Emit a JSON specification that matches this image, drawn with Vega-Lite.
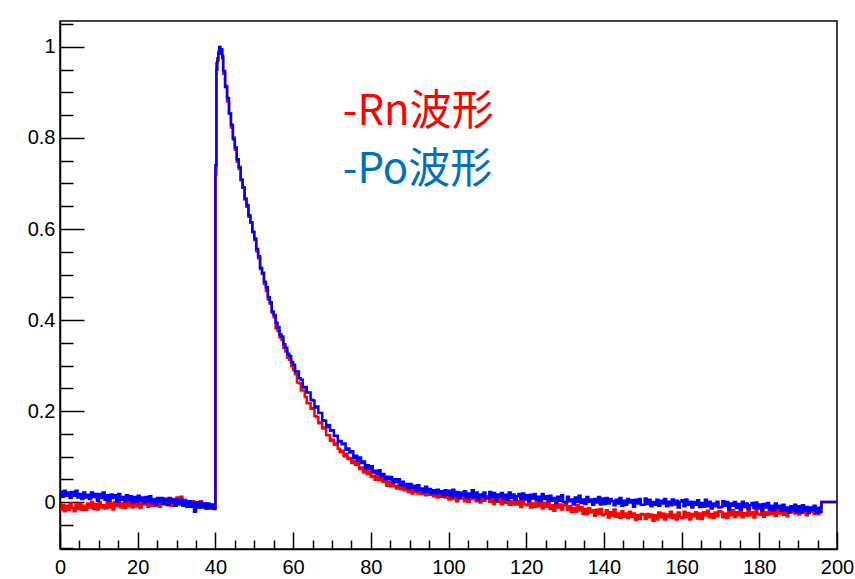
{
  "$schema": "https://vega.github.io/schema/vega-lite/v6.json",
  "width": 777,
  "height": 528,
  "autosize": {"type": "none"},
  "padding": {"left": 60, "top": 21, "right": 18, "bottom": 30},
  "background": "white",
  "config": {
    "view": {"stroke": "black", "strokeWidth": 1.5},
    "axis": {"grid": false, "domainColor": "black", "domainWidth": 1.5, "tickColor": "black", "tickWidth": 1.5, "labelColor": "black", "labelFont": "Liberation Sans", "labelFontSize": 20, "title": null}
  },
  "datasets": {
    "waves": [
      {"t":0,"rn":-0.016,"po":0.023},{"t":0.5,"rn":-0.006,"po":0.012},{"t":1,"rn":-0.020,"po":0.025},{"t":1.5,"rn":-0.008,"po":0.014},
      {"t":2,"rn":-0.017,"po":0.021},{"t":2.5,"rn":-0.003,"po":0.009},{"t":3,"rn":-0.013,"po":0.022},{"t":3.5,"rn":-0.020,"po":0.014},
      {"t":4,"rn":-0.005,"po":0.025},{"t":4.5,"rn":-0.015,"po":0.010},{"t":5,"rn":-0.003,"po":0.018},{"t":5.5,"rn":-0.017,"po":0.007},
      {"t":6,"rn":-0.008,"po":0.021},{"t":6.5,"rn":-0.017,"po":0.010},{"t":7,"rn":-0.003,"po":0.016},{"t":7.5,"rn":-0.012,"po":0.007},
      {"t":8,"rn":0.000,"po":0.021},{"t":8.5,"rn":-0.015,"po":0.011},{"t":9,"rn":-0.004,"po":0.018},{"t":9.5,"rn":-0.016,"po":0.003},
      {"t":10,"rn":-0.001,"po":0.018},{"t":10.5,"rn":-0.012,"po":0.009},{"t":11,"rn":-0.007,"po":0.021},{"t":11.5,"rn":-0.014,"po":0.005},
      {"t":12,"rn":0.001,"po":0.015},{"t":12.5,"rn":-0.012,"po":0.003},{"t":13,"rn":-0.002,"po":0.017},{"t":13.5,"rn":-0.016,"po":0.009},
      {"t":14,"rn":0.000,"po":0.015},{"t":14.5,"rn":-0.009,"po":0.001},{"t":15,"rn":0.003,"po":0.018},{"t":15.5,"rn":-0.012,"po":0.005},
      {"t":16,"rn":-0.003,"po":0.011},{"t":16.5,"rn":-0.013,"po":0.002},{"t":17,"rn":0.002,"po":0.015},{"t":17.5,"rn":-0.009,"po":0.004},
      {"t":18,"rn":-0.001,"po":0.013},{"t":18.5,"rn":-0.012,"po":-0.001},{"t":19,"rn":0.004,"po":0.011},{"t":19.5,"rn":-0.009,"po":0.001},
      {"t":20,"rn":0.001,"po":0.014},{"t":20.5,"rn":-0.013,"po":0.004},{"t":21,"rn":0.002,"po":0.010},{"t":21.5,"rn":-0.005,"po":-0.002},
      {"t":22,"rn":0.004,"po":0.011},{"t":22.5,"rn":-0.010,"po":0.000},{"t":23,"rn":0.001,"po":0.013},{"t":23.5,"rn":-0.008,"po":-0.002},
      {"t":24,"rn":0.006,"po":0.007},{"t":24.5,"rn":-0.008,"po":-0.005},{"t":25,"rn":0.001,"po":0.009},{"t":25.5,"rn":-0.010,"po":0.001},
      {"t":26,"rn":0.004,"po":0.009},{"t":26.5,"rn":-0.004,"po":-0.004},{"t":27,"rn":0.008,"po":0.006},{"t":27.5,"rn":-0.007,"po":-0.006},
      {"t":28,"rn":0.004,"po":0.009},{"t":28.5,"rn":-0.008,"po":-0.002},{"t":29,"rn":0.007,"po":0.006},{"t":29.5,"rn":-0.004,"po":-0.008},
      {"t":30,"rn":0.010,"po":0.006},{"t":30.5,"rn":-0.003,"po":-0.005},{"t":31,"rn":0.012,"po":0.006},{"t":31.5,"rn":-0.003,"po":-0.008},
      {"t":32,"rn":0.005,"po":0.002},{"t":32.5,"rn":-0.009,"po":-0.010},{"t":33,"rn":0.002,"po":0.002},{"t":33.5,"rn":-0.009,"po":-0.010},
      {"t":34,"rn":0.002,"po":-0.001},{"t":34.5,"rn":-0.011,"po":-0.021},{"t":35,"rn":-0.001,"po":-0.001},{"t":35.5,"rn":-0.011,"po":-0.012},
      {"t":36,"rn":0.002,"po":-0.001},{"t":36.5,"rn":-0.011,"po":-0.012},{"t":37,"rn":-0.003,"po":-0.003},{"t":37.5,"rn":-0.014,"po":-0.014},
      {"t":38,"rn":-0.005,"po":-0.003},{"t":38.5,"rn":-0.014,"po":-0.013},{"t":39,"rn":-0.005,"po":-0.006},{"t":39.5,"rn":-0.014,"po":-0.015},
      {"t":40,"rn":0.720,"po":0.740},{"t":40.25,"rn":0.965,"po":0.950},{"t":40.5,"rn":0.975,"po":0.970},{"t":40.75,"rn":0.990,"po":0.985},
      {"t":41,"rn":1.000,"po":1.000},{"t":41.25,"rn":0.985,"po":0.990},{"t":41.5,"rn":0.992,"po":0.995},{"t":41.75,"rn":0.975,"po":0.980},
      {"t":42,"rn":0.941,"po":0.947},{"t":42.5,"rn":0.915,"po":0.912},{"t":43,"rn":0.880,"po":0.888},{"t":43.5,"rn":0.854,"po":0.854},
      {"t":44,"rn":0.823,"po":0.829},{"t":44.5,"rn":0.801,"po":0.797},{"t":45,"rn":0.774,"po":0.779},{"t":45.5,"rn":0.748,"po":0.753},
      {"t":46,"rn":0.732,"po":0.736},{"t":46.5,"rn":0.707,"po":0.709},{"t":47,"rn":0.691,"po":0.691},{"t":47.5,"rn":0.665,"po":0.667},
      {"t":48,"rn":0.649,"po":0.653},{"t":48.5,"rn":0.627,"po":0.630},{"t":49,"rn":0.614,"po":0.615},{"t":49.5,"rn":0.593,"po":0.594},
      {"t":50,"rn":0.576,"po":0.579},{"t":50.5,"rn":0.551,"po":0.556},{"t":51,"rn":0.536,"po":0.540},{"t":51.5,"rn":0.512,"po":0.515},
      {"t":52,"rn":0.501,"po":0.504},{"t":52.5,"rn":0.479,"po":0.484},{"t":53,"rn":0.464,"po":0.472},{"t":53.5,"rn":0.445,"po":0.450},
      {"t":54,"rn":0.436,"po":0.439},{"t":54.5,"rn":0.416,"po":0.419},{"t":55,"rn":0.406,"po":0.411},{"t":55.5,"rn":0.382,"po":0.394},
      {"t":56,"rn":0.376,"po":0.384},{"t":56.5,"rn":0.362,"po":0.368},{"t":57,"rn":0.356,"po":0.364},{"t":57.5,"rn":0.339,"po":0.347},
      {"t":58,"rn":0.331,"po":0.339},{"t":58.5,"rn":0.317,"po":0.326},{"t":59,"rn":0.313,"po":0.321},{"t":59.5,"rn":0.299,"po":0.308},
      {"t":60,"rn":0.290,"po":0.302},{"t":60.5,"rn":0.281,"po":0.287},{"t":61,"rn":0.263,"po":0.287},{"t":61.5,"rn":0.261,"po":0.272},
      {"t":62,"rn":0.245,"po":0.269},{"t":62.5,"rn":0.245,"po":0.252},{"t":63,"rn":0.231,"po":0.253},{"t":63.5,"rn":0.217,"po":0.241},
      {"t":64,"rn":0.218,"po":0.241},{"t":64.5,"rn":0.205,"po":0.225},{"t":65,"rn":0.206,"po":0.223},{"t":65.5,"rn":0.189,"po":0.208},
      {"t":66,"rn":0.187,"po":0.210},{"t":66.5,"rn":0.173,"po":0.196},{"t":67,"rn":0.175,"po":0.196},{"t":67.5,"rn":0.162,"po":0.180},
      {"t":68,"rn":0.164,"po":0.179},{"t":68.5,"rn":0.147,"po":0.165},{"t":69,"rn":0.147,"po":0.169},{"t":69.5,"rn":0.134,"po":0.157},
      {"t":70,"rn":0.137,"po":0.158},{"t":70.5,"rn":0.126,"po":0.145},{"t":71,"rn":0.129,"po":0.146},{"t":71.5,"rn":0.117,"po":0.132},
      {"t":72,"rn":0.110,"po":0.134},{"t":72.5,"rn":0.113,"po":0.127},{"t":73,"rn":0.101,"po":0.129},{"t":73.5,"rn":0.106,"po":0.115},
      {"t":74,"rn":0.095,"po":0.118},{"t":74.5,"rn":0.097,"po":0.109},{"t":75,"rn":0.086,"po":0.112},{"t":75.5,"rn":0.091,"po":0.097},
      {"t":76,"rn":0.082,"po":0.102},{"t":76.5,"rn":0.086,"po":0.091},{"t":77,"rn":0.073,"po":0.098},{"t":77.5,"rn":0.076,"po":0.086},
      {"t":78,"rn":0.065,"po":0.089},{"t":78.5,"rn":0.070,"po":0.075},{"t":79,"rn":0.062,"po":0.081},{"t":79.5,"rn":0.067,"po":0.073},
      {"t":80,"rn":0.055,"po":0.079},{"t":80.5,"rn":0.058,"po":0.065},{"t":81,"rn":0.049,"po":0.069},{"t":81.5,"rn":0.056,"po":0.061},
      {"t":82,"rn":0.048,"po":0.070},{"t":82.5,"rn":0.054,"po":0.057},{"t":83,"rn":0.044,"po":0.062},{"t":83.5,"rn":0.048,"po":0.050},
      {"t":84,"rn":0.036,"po":0.056},{"t":84.5,"rn":0.044,"po":0.050},{"t":85,"rn":0.035,"po":0.055},{"t":85.5,"rn":0.042,"po":0.042},
      {"t":86,"rn":0.035,"po":0.050},{"t":86.5,"rn":0.030,"po":0.044},{"t":87,"rn":0.038,"po":0.050},{"t":87.5,"rn":0.029,"po":0.037},
      {"t":88,"rn":0.037,"po":0.045},{"t":88.5,"rn":0.026,"po":0.036},{"t":89,"rn":0.031,"po":0.040},{"t":89.5,"rn":0.022,"po":0.029},
      {"t":90,"rn":0.029,"po":0.040},{"t":90.5,"rn":0.019,"po":0.032},{"t":91,"rn":0.030,"po":0.036},{"t":91.5,"rn":0.023,"po":0.026},
      {"t":92,"rn":0.019,"po":0.037},{"t":92.5,"rn":0.028,"po":0.026},{"t":93,"rn":0.018,"po":0.030},{"t":93.5,"rn":0.023,"po":0.023},
      {"t":94,"rn":0.015,"po":0.034},{"t":94.5,"rn":0.023,"po":0.023},{"t":95,"rn":0.016,"po":0.029},{"t":95.5,"rn":0.024,"po":0.019},
      {"t":96,"rn":0.013,"po":0.026},{"t":96.5,"rn":0.020,"po":0.019},{"t":97,"rn":0.010,"po":0.027},{"t":97.5,"rn":0.018,"po":0.020},
      {"t":98,"rn":0.012,"po":0.024},{"t":98.5,"rn":0.020,"po":0.015},{"t":99,"rn":0.010,"po":0.026},{"t":99.5,"rn":0.016,"po":0.016},
      {"t":100,"rn":0.006,"po":0.025},{"t":100.5,"rn":0.020,"po":0.012},{"t":101,"rn":0.007,"po":0.027},{"t":101.5,"rn":0.016,"po":0.014},
      {"t":102,"rn":0.002,"po":0.022},{"t":102.5,"rn":0.013,"po":0.009},{"t":103,"rn":0.008,"po":0.021},{"t":103.5,"rn":0.017,"po":0.015},
      {"t":104,"rn":0.002,"po":0.024},{"t":104.5,"rn":0.013,"po":0.009},{"t":105,"rn":0.001,"po":0.019},{"t":105.5,"rn":0.014,"po":0.011},
      {"t":106,"rn":0.007,"po":0.026},{"t":106.5,"rn":0.016,"po":0.011},{"t":107,"rn":0.002,"po":0.021},{"t":107.5,"rn":0.009,"po":0.006},
      {"t":108,"rn":-0.001,"po":0.017},{"t":108.5,"rn":0.011,"po":0.012},{"t":109,"rn":0.003,"po":0.021},{"t":109.5,"rn":0.013,"po":0.008},
      {"t":110,"rn":0.012,"po":0.009},{"t":110.5,"rn":0.000,"po":0.022},{"t":111,"rn":0.007,"po":0.012},{"t":111.5,"rn":-0.004,"po":0.020},
      {"t":112,"rn":0.009,"po":0.004},{"t":112.5,"rn":0.001,"po":0.017},{"t":113,"rn":0.012,"po":0.012},{"t":113.5,"rn":-0.004,"po":0.020},
      {"t":114,"rn":0.006,"po":0.007},{"t":114.5,"rn":-0.002,"po":0.016},{"t":115,"rn":0.009,"po":0.005},{"t":115.5,"rn":-0.006,"po":0.021},
      {"t":116,"rn":0.002,"po":0.009},{"t":116.5,"rn":-0.005,"po":0.017},{"t":117,"rn":0.009,"po":0.005},{"t":117.5,"rn":-0.005,"po":0.013},
      {"t":118,"rn":0.002,"po":0.018},{"t":118.5,"rn":-0.011,"po":0.007},{"t":119,"rn":0.004,"po":0.019},{"t":119.5,"rn":-0.005,"po":0.006},
      {"t":120,"rn":-0.007,"po":0.015},{"t":120.5,"rn":0.003,"po":0.002},{"t":121,"rn":-0.012,"po":0.016},{"t":121.5,"rn":-0.003,"po":0.008},
      {"t":122,"rn":-0.010,"po":0.018},{"t":122.5,"rn":0.004,"po":0.005},{"t":123,"rn":-0.009,"po":0.012},{"t":123.5,"rn":-0.003,"po":0.002},
      {"t":124,"rn":-0.014,"po":0.018},{"t":124.5,"rn":-0.002,"po":0.007},{"t":125,"rn":-0.010,"po":0.013},{"t":125.5,"rn":-0.001,"po":0.002},
      {"t":126,"rn":-0.015,"po":0.014},{"t":126.5,"rn":-0.007,"po":0.003},{"t":127,"rn":-0.019,"po":0.009},{"t":127.5,"rn":-0.006,"po":-0.002},
      {"t":128,"rn":-0.012,"po":0.012},{"t":128.5,"rn":-0.005,"po":0.003},{"t":129,"rn":-0.016,"po":0.015},{"t":129.5,"rn":-0.007,"po":0.000},
      {"t":130,"rn":-0.005,"po":-0.001},{"t":130.5,"rn":-0.017,"po":0.012},{"t":131,"rn":-0.009,"po":0.002},{"t":131.5,"rn":-0.022,"po":0.006},
      {"t":132,"rn":-0.013,"po":-0.005},{"t":132.5,"rn":-0.021,"po":0.010},{"t":133,"rn":-0.007,"po":0.000},{"t":133.5,"rn":-0.018,"po":0.014},
      {"t":134,"rn":-0.011,"po":-0.002},{"t":134.5,"rn":-0.026,"po":0.006},{"t":135,"rn":-0.015,"po":-0.004},{"t":135.5,"rn":-0.026,"po":0.011},
      {"t":136,"rn":-0.013,"po":0.001},{"t":136.5,"rn":-0.022,"po":0.006},{"t":137,"rn":-0.018,"po":-0.006},{"t":137.5,"rn":-0.030,"po":0.007},
      {"t":138,"rn":-0.017,"po":-0.001},{"t":138.5,"rn":-0.026,"po":0.011},{"t":139,"rn":-0.015,"po":-0.005},{"t":139.5,"rn":-0.029,"po":0.008},
      {"t":140,"rn":-0.026,"po":-0.004},{"t":140.5,"rn":-0.018,"po":0.009},{"t":141,"rn":-0.034,"po":-0.003},{"t":141.5,"rn":-0.022,"po":0.007},
      {"t":142,"rn":-0.030,"po":0.002},{"t":142.5,"rn":-0.016,"po":-0.007},{"t":143,"rn":-0.032,"po":0.005},{"t":143.5,"rn":-0.025,"po":-0.003},
      {"t":144,"rn":-0.035,"po":0.009},{"t":144.5,"rn":-0.020,"po":-0.008},{"t":145,"rn":-0.032,"po":0.003},{"t":145.5,"rn":-0.025,"po":-0.006},
      {"t":146,"rn":-0.035,"po":0.007},{"t":146.5,"rn":-0.021,"po":-0.001},{"t":147,"rn":-0.032,"po":0.004},{"t":147.5,"rn":-0.025,"po":-0.010},
      {"t":148,"rn":-0.039,"po":0.005},{"t":148.5,"rn":-0.029,"po":-0.003},{"t":149,"rn":-0.037,"po":0.007},{"t":149.5,"rn":-0.026,"po":-0.006},
      {"t":150,"rn":-0.027,"po":-0.006},{"t":150.5,"rn":-0.037,"po":0.008},{"t":151,"rn":-0.026,"po":-0.004},{"t":151.5,"rn":-0.033,"po":0.005},
      {"t":152,"rn":-0.027,"po":-0.009},{"t":152.5,"rn":-0.041,"po":0.000},{"t":153,"rn":-0.029,"po":-0.006},{"t":153.5,"rn":-0.038,"po":0.005},
      {"t":154,"rn":-0.023,"po":-0.008},{"t":154.5,"rn":-0.033,"po":0.003},{"t":155,"rn":-0.025,"po":-0.003},{"t":155.5,"rn":-0.038,"po":0.007},
      {"t":156,"rn":-0.027,"po":-0.009},{"t":156.5,"rn":-0.033,"po":0.001},{"t":157,"rn":-0.021,"po":-0.007},{"t":157.5,"rn":-0.035,"po":0.006},
      {"t":158,"rn":-0.028,"po":-0.005},{"t":158.5,"rn":-0.038,"po":0.003},{"t":159,"rn":-0.023,"po":-0.012},{"t":159.5,"rn":-0.033,"po":0.001},
      {"t":160,"rn":-0.035,"po":0.004},{"t":160.5,"rn":-0.021,"po":-0.009},{"t":161,"rn":-0.033,"po":0.006},{"t":161.5,"rn":-0.024,"po":-0.006},
      {"t":162,"rn":-0.038,"po":0.001},{"t":162.5,"rn":-0.026,"po":-0.012},{"t":163,"rn":-0.031,"po":0.000},{"t":163.5,"rn":-0.022,"po":-0.006},
      {"t":164,"rn":-0.036,"po":0.004},{"t":164.5,"rn":-0.025,"po":-0.011},{"t":165,"rn":-0.037,"po":-0.002},{"t":165.5,"rn":-0.022,"po":-0.010},
      {"t":166,"rn":-0.029,"po":0.005},{"t":166.5,"rn":-0.019,"po":-0.009},{"t":167,"rn":-0.033,"po":0.001},{"t":167.5,"rn":-0.026,"po":-0.014},
      {"t":168,"rn":-0.035,"po":-0.003},{"t":168.5,"rn":-0.023,"po":-0.009},{"t":169,"rn":-0.031,"po":0.001},{"t":169.5,"rn":-0.020,"po":-0.012},
      {"t":170,"rn":-0.021,"po":-0.011},{"t":170.5,"rn":-0.033,"po":0.002},{"t":171,"rn":-0.025,"po":-0.008},{"t":171.5,"rn":-0.035,"po":0.000},
      {"t":172,"rn":-0.021,"po":-0.016},{"t":172.5,"rn":-0.029,"po":-0.003},{"t":173,"rn":-0.018,"po":-0.008},{"t":173.5,"rn":-0.033,"po":0.000},
      {"t":174,"rn":-0.022,"po":-0.013},{"t":174.5,"rn":-0.029,"po":-0.004},{"t":175,"rn":-0.018,"po":-0.016},{"t":175.5,"rn":-0.033,"po":0.001},
      {"t":176,"rn":-0.024,"po":-0.011},{"t":176.5,"rn":-0.030,"po":-0.003},{"t":177,"rn":-0.015,"po":-0.015},{"t":177.5,"rn":-0.029,"po":-0.007},
      {"t":178,"rn":-0.022,"po":-0.002},{"t":178.5,"rn":-0.034,"po":-0.013},{"t":179,"rn":-0.018,"po":-0.001},{"t":179.5,"rn":-0.026,"po":-0.014},
      {"t":180,"rn":-0.028,"po":-0.005},{"t":180.5,"rn":-0.018,"po":-0.018},{"t":181,"rn":-0.032,"po":-0.004},{"t":181.5,"rn":-0.022,"po":-0.012},
      {"t":182,"rn":-0.028,"po":-0.002},{"t":182.5,"rn":-0.014,"po":-0.016},{"t":183,"rn":-0.026,"po":-0.008},{"t":183.5,"rn":-0.019,"po":-0.018},
      {"t":184,"rn":-0.030,"po":-0.003},{"t":184.5,"rn":-0.017,"po":-0.013},{"t":185,"rn":-0.025,"po":-0.008},{"t":185.5,"rn":-0.014,"po":-0.019},
      {"t":186,"rn":-0.028,"po":-0.006},{"t":186.5,"rn":-0.019,"po":-0.018},{"t":187,"rn":-0.031,"po":-0.012},{"t":187.5,"rn":-0.017,"po":-0.022},
      {"t":188,"rn":-0.023,"po":-0.009},{"t":188.5,"rn":-0.014,"po":-0.018},{"t":189,"rn":-0.025,"po":-0.006},{"t":189.5,"rn":-0.015,"po":-0.021},
      {"t":190,"rn":-0.027,"po":-0.009},{"t":190.5,"rn":-0.013,"po":-0.022},{"t":191,"rn":-0.024,"po":-0.007},{"t":191.5,"rn":-0.015,"po":-0.019},
      {"t":192,"rn":-0.029,"po":-0.011},{"t":192.5,"rn":-0.017,"po":-0.024},{"t":193,"rn":-0.021,"po":-0.012},{"t":193.5,"rn":-0.012,"po":-0.018},
      {"t":194,"rn":-0.026,"po":-0.008},{"t":194.5,"rn":-0.014,"po":-0.023},{"t":195,"rn":-0.026,"po":-0.013},{"t":195.5,"rn":-0.012,"po":-0.022},
      {"t":196,"rn":0.000,"po":0.000},{"t":200,"rn":0.000,"po":0.000}
    ],
    "labels": [
      {"label": "-Rn波形", "t": 72.8, "v": 0.857},
      {"label": "-Po波形", "t": 72.8, "v": 0.73}
    ]
  },
  "resolve": {"axis": {"x": "independent", "y": "independent"}},
  "layer": [
    {
      "data": {"name": "waves"},
      "mark": {"type": "line", "interpolate": "step-after", "color": "#ff0000", "strokeWidth": 2.5, "clip": true},
      "encoding": {
        "x": {"field": "t", "type": "quantitative", "scale": {"domain": [0, 200], "nice": false, "zero": false},
          "axis": {"orient": "bottom", "values": [0, 20, 40, 60, 80, 100, 120, 140, 160, 180, 200], "format": "d", "tickSize": -17, "labelPadding": 25, "labelFlush": false}},
        "y": {"field": "rn", "type": "quantitative", "scale": {"domain": [-0.103, 1.057], "nice": false, "zero": false},
          "axis": {"orient": "left", "values": [0, 0.2, 0.4, 0.6, 0.8, 1], "format": "~g", "tickSize": -24, "labelPadding": 29, "labelFlush": false}}
      }
    },
    {
      "data": {"name": "waves"},
      "mark": {"type": "line", "interpolate": "step-after", "color": "#0000ff", "strokeWidth": 2.5, "clip": true},
      "encoding": {
        "x": {"field": "t", "type": "quantitative",
          "axis": {"orient": "bottom", "values": [5, 10, 15, 25, 30, 35, 45, 50, 55, 65, 70, 75, 85, 90, 95, 105, 110, 115, 125, 130, 135, 145, 150, 155, 165, 170, 175, 185, 190, 195], "tickSize": -9, "labels": false, "domain": false}},
        "y": {"field": "po", "type": "quantitative",
          "axis": {"orient": "left", "values": [-0.1, -0.05, 0.05, 0.1, 0.15, 0.25, 0.3, 0.35, 0.45, 0.5, 0.55, 0.65, 0.7, 0.75, 0.85, 0.9, 0.95, 1.05], "tickSize": -13, "labels": false, "domain": false}}
      }
    },
    {
      "data": {"name": "labels"},
      "mark": {"type": "text", "align": "left", "baseline": "middle", "font": "Noto Sans CJK SC", "fontSize": 42},
      "encoding": {
        "x": {"field": "t", "type": "quantitative", "axis": null},
        "y": {"field": "v", "type": "quantitative", "axis": null},
        "text": {"field": "label"},
        "color": {"field": "label", "type": "nominal", "scale": {"domain": ["-Rn波形", "-Po波形"], "range": ["#ff0000", "#0070c0"]}, "legend": null}
      }
    }
  ]
}
